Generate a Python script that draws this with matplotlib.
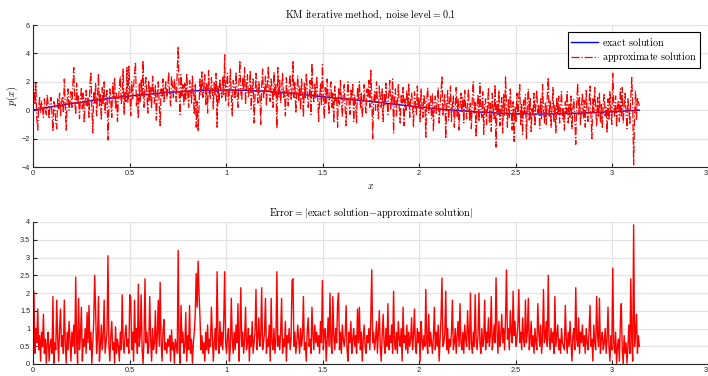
import numpy as np
import matplotlib
matplotlib.use("Agg")
import matplotlib.pyplot as plt

plt.rcParams['mathtext.fontset'] = 'cm'
plt.rcParams['font.family'] = ['Liberation Sans', 'DejaVu Sans']

# exact solution, read at coarse x positions
exact_x = [0.0, 0.1, 0.2, 0.3, 0.4, 0.5, 0.6, 0.7, 0.8, 0.9, 1.0, 1.1, 1.2, 1.3, 1.4, 1.5,
           1.6, 1.7, 1.8, 1.9, 2.0, 2.1, 2.2, 2.3, 2.4, 2.5, 2.6, 2.7, 2.8, 2.9, 3.0, 3.1, 3.14159]
exact_y = [0.00, 0.25, 0.47, 0.66, 0.84, 1.00, 1.13, 1.25, 1.34, 1.40, 1.42, 1.40, 1.34, 1.24, 1.10, 0.95,
           0.82, 0.68, 0.54, 0.38, 0.22, 0.10, -0.02, -0.12, -0.20, -0.25, -0.27, -0.26, -0.22, -0.17, -0.11, -0.03, 0.00]

# approximate (noisy) solution on a uniform grid over [0, pi]
approx = [
    2.2, 1.6, 0.4, 1.9, -0.6, -1.4, 0.3, 0.9, -0.2, 0.6, 0.1, -0.5, 0.8, 0.2, -0.3, 1.1, 0.4, -0.6, 0.5, 0.9,
    -0.3, -1.5, 0.6, 0.2, -0.9, -1.3, 0.8, 0.1, 1.2, -0.4, 0.5, 0.9, -0.2, 2.2, 0.3, -1.4, 0.7, 1.5, 0.0, 0.6,
    1.3, 0.2, 1.8, 3.0, 0.7, -0.3, 1.9, 0.4, 1.0, -0.6, 0.8, 1.6, 0.1, 1.2, -0.9, 0.6, 1.4, 0.3, 0.9, -0.5,
    1.8, 2.7, 0.2, -1.6, 1.3, 0.5, 1.9, -0.4, 0.9, 2.6, 0.3, 1.1, -0.7, 1.6, 0.4, 2.0, -0.2, 0.8, 1.4, -2.1,
    0.2, 1.5, 0.6, -0.5, 1.9, 0.8, 2.3, 0.1, 1.2, -0.8, 0.7, 1.6, 2.4, 0.4, 1.0, 2.9, -0.3, 1.3, 0.6, 3.0,
    0.5, 3.1, 1.4, -0.4, 2.0, 0.8, 1.7, 2.5, 3.4, 0.3, 1.1, -0.6, 1.9, 0.6, 2.2, 1.0, 3.5, 0.2, 1.5, 2.3,
    1.2, -0.2, 2.1, 0.7, 1.6, 0.1, 2.4, 1.3, 0.5, 1.8, -0.7, 1.1, 2.0, 0.4, -1.1, 1.5, 0.9, 2.2, 0.6, 1.4,
    2.0, 0.8, 1.5, 2.7, 1.1, 0.3, 2.4, 1.7, 0.9, 2.2, 1.4, 0.6, 2.8, 4.5, 1.2, -0.3, 2.5, 1.0, 1.8, 0.4,
    1.9, 0.7, 2.6, 1.3, 0.2, 2.1, 1.6, 0.5, 2.4, 1.0, -0.3, 1.8, -1.2, 0.6, -1.5, 0.3, 2.2, 1.1, 2.7, 0.9,
    1.6, 2.5, 0.4, 1.9, -0.2, 2.8, 1.2, 0.8, 2.3, 1.5, 0.1, 2.0, 1.0, 2.6, -1.2, 1.7, 0.5, 2.2, 1.3, 0.9,
    2.4, 1.1, 3.9, 0.6, 1.8, 2.6, 0.3, 1.4, 2.9, 1.0, -0.4, 2.1, 1.6, 0.8, 2.7, 1.2, 0.2, 1.9, 3.5, 1.3,
    0.7, 2.3, 1.5, 3.0, 0.4, 1.8, 2.5, 0.9, 1.3, 2.8, 0.1, 1.6, 2.2, -0.9, 1.0, 2.6, 1.4, 0.5, 2.0, 1.1,
    -1.0, 1.7, 2.9, 0.8, 1.4, 2.4, 0.3, 1.9, 3.1, 1.1, 0.6, 2.2, 1.5, 0.2, 2.7, 1.0, 1.8, -1.3, 3.0, 0.9,
    2.1, 0.5, 1.6, 2.6, 0.8, 1.3, -0.4, 2.3, 1.1, 0.3, 1.8, 2.5, 0.7, 1.4, 3.5, 0.9, 2.0, -0.2, 1.2, 2.4,
    0.6, 1.7, 0.0, 2.2, 1.3, -0.5, 1.9, 0.8, 2.6, 1.4, 0.2, 1.0, 2.1, -0.3, 3.3, 1.2, 0.5, 1.8, 0.9, 2.4,
    1.1, -0.8, 0.7, 1.9, 0.3, 3.2, 1.0, -0.6, 1.6, 0.5, 2.2, 0.9, -0.3, 1.4, 2.0, 0.2, 1.2, -0.9, 1.7, 0.6,
    0.9, -1.2, 1.5, 0.4, 2.1, 0.7, -0.5, 1.2, 1.8, 0.1, -1.1, 1.0, 2.0, 0.6, -0.3, 1.4, 0.8, 1.9, -0.8, 1.1,
    0.3, -0.9, 1.6, 0.8, 2.0, 0.1, 1.2, -0.5, 0.7, 1.8, 0.4, -0.2, 1.5, 0.9, 2.1, 0.2, 2.8, 1.0, -2.0, 0.6,
    1.3, 0.0, 2.0, 0.6, -0.6, 1.7, 0.9, 0.2, 1.5, -0.8, 1.1, 0.4, 1.9, 0.7, -0.3, 1.2, 2.1, 0.1, 0.8, 2.2,
    -1.6, 0.9, 1.5, -0.4, 0.6, 1.8, 0.2, -0.9, 1.1, 0.5, 1.6, -1.1, 0.8, 0.0, 1.4, 0.3, 1.9, -0.5, 0.7, 1.2,
    0.4, -1.2, 1.3, 0.6, -0.3, 1.7, 0.1, 0.9, -0.8, 1.5, 0.3, -0.5, 1.1, 0.6, -1.9, 0.8, 1.6, -0.2, 0.5, 1.0,
    -0.6, 1.2, -1.5, 0.4, 1.0, -0.3, 0.7, 1.6, -0.9, 0.2, 1.3, 2.4, -0.4, 0.6, 1.1, -2.0, 0.3, 1.4, -0.7, 0.5,
    1.7, -0.8, 0.4, 1.0, -1.2, 0.2, 1.6, -0.5, 0.8, -1.4, 0.3, 1.2, -0.2, 0.9, -0.9, 1.4, 0.1, -0.6, 0.7, 1.5,
    -0.7, 0.5, -1.3, 0.9, 2.0, -0.2, 0.6, -1.9, 0.3, 1.1, -0.8, 1.9, 0.1, -0.5, 1.3, -1.7, 0.4, 0.8, -1.0, 0.2,
    1.6, -0.9, 0.5, -1.5, 1.2, 0.0, -0.6, 1.8, -2.6, 0.6, -0.3, 1.4, -1.1, 0.2, 0.9, -1.6, 1.1, -0.4, 2.4, 0.3,
    -1.2, 0.8, -0.5, 1.5, 0.1, -1.4, 0.6, -2.2, 0.2, -0.8, 1.2, -0.3, 0.9, 1.8, -1.0, 0.4, -1.7, 0.7, -0.2, 1.1,
    -2.0, 0.3, 1.5, -0.7, 0.9, -1.5, 0.1, -0.4, 1.2, -1.1, 0.6, 1.4, -0.2, 0.4, -1.3, 0.8, -0.6, 1.8, 0.0, -0.9,
    0.5, -1.0, 1.1, 2.3, -0.5, 0.7, -1.2, 0.2, 1.6, -0.8, 0.4, -1.6, 0.9, -0.3, 1.0, -0.9, 0.3, 1.3, -0.6, 0.1,
    -1.4, 0.6, -0.2, 1.3, -0.9, 0.4, -0.5, 1.0, -1.3, 0.2, 0.8, -0.7, -2.4, 0.5, 1.9, -0.3, 0.9, -1.0, 0.1, 1.2,
    -0.6, 0.7, -1.2, 1.4, 0.0, -0.8, 0.5, 1.7, -0.4, -2.0, 0.8, -0.2, 1.6, 0.3, -1.1, 0.9, -0.5, 1.2, -0.9, 0.4,
    -1.3, 0.6, 1.1, -0.4, 0.2, -1.6, 0.8, -0.7, 1.3, 0.0, -1.0, 2.6, 0.4, -0.5, 1.0, -1.2, 0.3, 0.7, -0.8, 1.5,
    -0.5, 1.6, -0.9, 0.3, 1.2, -0.2, -1.3, 0.8, 0.1, -1.0, 0.9, 2.3, 0.4, -3.85, -0.5, 1.4, -0.7, 0.9, 0.6, 0.3,
]

# error |exact - approximate| on the same kind of grid
error = [
    2.15, 2.0, 0.3, 1.0, 0.6, 1.55, 0.4, 0.8, 0.08, 0.9, 0.5, 1.4, 0.3, 0.7, 0.02, 0.6, 0.9, 0.08, 0.5, 0.7,
    0.3, 1.9, 0.02, 0.6, 0.4, 1.8, 0.7, 0.08, 1.0, 1.55, 0.5, 0.8, 0.3, 1.8, 0.6, 0.02, 0.9, 0.4, 1.2, 0.7,
    0.08, 0.9, 0.5, 1.1, 0.3, 2.45, 0.6, 0.02, 1.85, 0.4, 0.8, 1.6, 0.08, 0.7, 0.5, 1.0, 0.3, 1.45, 0.6, 1.65,
    0.4, 0.9, 0.02, 0.6, 1.2, 2.5, 1.5, 0.3, 0.7, 1.9, 0.08, 0.5, 1.1, 0.4, 0.8, 1.8, 0.3, 0.6, 0.9, 3.05,
    0.5, 0.08, 0.8, 1.2, 0.4, 0.6, 0.02, 1.05, 0.3, 0.7, 0.5, 0.08, 0.9, 0.4, 1.95, 0.6, 0.3, 0.8, 1.1, 0.5,
    0.7, 0.3, 1.95, 1.85, 0.4, 0.9, 0.08, 1.8, 0.6, 1.0, 0.3, 2.25, 0.5, 0.8, 1.95, 0.4, 0.02, 0.7, 2.4, 0.6,
    0.9, 0.3, 0.5, 1.9, 0.7, 0.08, 1.0, 0.4, 0.6, 1.5, 0.3, 0.8, 1.8, 0.5, 2.3, 0.6, 0.08, 0.9, 1.25, 0.4,
    0.6, 0.3, 0.7, 0.5, 0.8, 0.08, 0.95, 0.4, 0.6, 0.02, 0.7, 0.5, 0.3, 3.2, 0.4, 0.02, 1.65, 0.6, 0.9, 0.3,
    0.5, 1.45, 0.08, 0.8, 0.4, 1.65, 0.3, 0.7, 0.02, 0.6, 0.9, 1.4, 2.55, 1.6, 2.9, 2.0, 1.3, 0.4, 0.8, 0.3,
    0.6, 0.08, 0.9, 0.4, 1.1, 0.3, 0.7, 0.5, 1.6, 0.8, 0.08, 0.6, 1.0, 0.4, 2.6, 0.7, 0.3, 1.2, 0.5, 0.9,
    0.4, 1.2, 2.6, 0.6, 0.3, 0.8, 1.0, 0.08, 0.5, 1.85, 0.7, 0.3, 0.9, 0.4, 1.1, 0.6, 1.7, 0.08, 0.8, 2.15,
    0.5, 0.9, 0.3, 0.7, 1.6, 0.4, 0.6, 1.0, 0.08, 0.8, 0.5, 1.2, 0.3, 0.6, 0.9, 2.1, 0.4, 0.7, 1.3, 0.5,
    0.8, 2.15, 0.4, 0.6, 0.9, 1.85, 0.3, 0.7, 0.5, 1.1, 0.08, 1.85, 0.6, 0.4, 1.0, 0.3, 0.7, 2.6, 0.5, 0.8,
    0.4, 0.9, 1.85, 0.3, 0.7, 0.5, 1.2, 0.08, 0.8, 0.6, 1.0, 0.4, 0.7, 2.35, 2.4, 0.5, 0.9, 0.3, 0.6, 1.1,
    0.7, 0.3, 1.0, 0.5, 0.8, 1.9, 0.4, 0.6, 0.08, 0.9, 1.3, 0.5, 0.7, 0.3, 1.6, 0.8, 0.4, 1.1, 0.6, 0.9,
    0.5, 0.8, 0.3, 1.2, 0.6, 2.35, 0.4, 0.9, 1.0, 0.08, 0.7, 1.3, 0.5, 2.0, 0.6, 0.3, 1.9, 0.8, 0.4, 1.0,
    0.6, 1.7, 2.0, 0.4, 0.9, 0.3, 1.1, 0.7, 0.5, 0.8, 1.65, 0.4, 0.08, 0.9, 0.6, 1.2, 0.3, 0.7, 1.0, 0.5,
    0.8, 0.3, 1.55, 0.6, 1.6, 0.4, 0.9, 0.08, 0.7, 1.1, 0.5, 0.3, 0.8, 0.6, 1.0, 0.4, 1.3, 2.65, 0.6, 0.9,
    0.4, 0.7, 1.2, 0.3, 0.9, 1.5, 0.5, 0.08, 0.8, 1.4, 0.6, 0.3, 1.0, 0.5, 1.7, 0.4, 0.8, 0.6, 1.1, 0.3,
    2.05, 0.6, 0.4, 0.9, 0.3, 1.2, 0.7, 0.5, 1.0, 0.08, 1.6, 0.6, 0.8, 0.4, 1.1, 0.3, 0.9, 0.5, 0.7, 1.3,
    0.4, 0.8, 1.55, 0.5, 0.3, 1.0, 0.6, 0.9, 0.08, 1.2, 0.7, 0.4, 0.8, 0.5, 2.1, 0.6, 0.3, 1.4, 0.5, 0.9,
    0.6, 0.3, 0.8, 1.6, 0.4, 0.9, 0.5, 1.1, 0.08, 0.7, 1.3, 2.42, 0.5, 0.6, 0.9, 2.05, 0.4, 1.0, 0.3, 0.7,
    0.5, 0.9, 1.8, 0.4, 0.6, 1.0, 0.3, 0.8, 1.2, 0.5, 1.7, 0.6, 0.4, 0.9, 0.3, 1.1, 0.7, 0.5, 1.5, 0.8,
    0.4, 2.0, 0.6, 0.3, 0.9, 0.5, 1.95, 0.7, 0.4, 0.8, 2.0, 0.6, 0.3, 1.0, 0.5, 0.7, 1.8, 0.4, 0.9, 0.6,
    1.3, 0.5, 0.8, 1.9, 0.4, 0.7, 1.1, 0.6, 2.43, 0.9, 0.3, 1.2, 0.5, 0.8, 1.4, 0.6, 1.0, 0.4, 1.3, 2.65,
    0.7, 1.0, 0.4, 1.5, 0.9, 0.6, 2.05, 0.8, 1.2, 0.5, 0.7, 1.1, 2.1, 0.6, 0.9, 0.4, 1.3, 0.7, 0.5, 1.8,
    0.6, 0.9, 1.85, 0.4, 0.7, 1.2, 0.5, 0.8, 0.3, 1.0, 0.6, 0.4, 1.7, 0.9, 0.5, 1.1, 0.3, 0.7, 2.1, 0.6,
    0.8, 1.2, 0.5, 2.5, 0.7, 0.4, 1.0, 0.6, 0.9, 0.3, 1.9, 0.5, 0.8, 1.1, 0.4, 0.7, 0.3, 1.0, 0.6, 0.5,
    0.4, 1.65, 0.7, 0.3, 0.9, 0.5, 1.2, 0.6, 0.08, 0.8, 1.0, 0.4, 2.15, 0.7, 0.5, 1.3, 0.3, 0.9, 0.6, 1.1,
    0.5, 0.8, 0.3, 1.0, 0.6, 0.4, 0.9, 1.65, 0.5, 0.7, 0.08, 1.1, 0.6, 0.4, 1.9, 0.8, 0.5, 1.85, 0.3, 0.7,
    0.9, 0.4, 0.6, 1.0, 0.3, 0.7, 1.6, 0.5, 0.08, 0.8, 0.4, 2.7, 0.6, 0.3, 0.9, 0.02, 0.5, 0.7, 0.08, 1.2,
    1.7, 0.4, 0.0, 0.8, 0.3, 0.6, 0.02, 0.5, 1.1, 0.3, 2.4, 0.7, 0.08, 3.92, 0.5, 0.9, 1.4, 0.3, 0.8, 0.5,
]

x_approx = np.linspace(0, np.pi, len(approx))
x_error = np.linspace(0, np.pi, len(error))

xticks = [0, 0.5, 1, 1.5, 2, 2.5, 3, 3.5]
xticklabels = ['0', '0.5', '1', '1.5', '2', '2.5', '3', '3.5']
yticks_top = [-4, -2, 0, 2, 4, 6]
yticks_bot = [0, 0.5, 1, 1.5, 2, 2.5, 3, 3.5, 4]

W, H = 708, 376
fig = plt.figure(figsize=(W / 100, H / 100), dpi=100)

def px_axes(left, right, top, bottom):
    return fig.add_axes([left / W, 1 - bottom / H, (right - left) / W, (bottom - top) / H])

ax1 = px_axes(33, 708.5, 25, 167)
ax2 = px_axes(33, 708.5, 222, 364)

dark = '#262626'
for ax in (ax1, ax2):
    ax.set_xlim(0, 3.5)
    ax.set_xticks(xticks)
    ax.set_xticklabels(xticklabels)
    ax.grid(True, color='#e3e3e3', linewidth=0.9)
    ax.set_axisbelow(True)
    for s in ('top', 'right'):
        ax.spines[s].set_visible(False)
    for s in ('left', 'bottom'):
        ax.spines[s].set_color(dark)
        ax.spines[s].set_linewidth(0.8)
    ax.tick_params(direction='in', length=3, width=0.8, colors=dark, labelsize=5.3, pad=2)

l1, = ax1.plot(exact_x, exact_y, color='#0000ff', linewidth=1.0, label=r'$\mathrm{exact\ solution}$')
l2, = ax1.plot(x_approx, approx, color='#ff0000', linestyle='-.', linewidth=0.9,
               label=r'$\mathrm{approximate\ solution}$')
ax1.set_ylim(-4, 6)
ax1.set_yticks(yticks_top)
ax1.set_title(r'$\mathrm{KM\ iterative\ method,\ noise\ level} = 0.1$', fontsize=7.3, pad=5)
ax1.set_xlabel(r'$x$', fontsize=7.3, labelpad=3)
ax1.set_ylabel(r'$p(x)$', fontsize=7.3, labelpad=1)
leg = ax1.legend(loc='upper right', bbox_to_anchor=(0.988, 0.95), fontsize=7.3, frameon=True,
                 fancybox=False, framealpha=1, edgecolor='black', handlelength=2.6,
                 handletextpad=0.4, borderpad=0.35, labelspacing=0.25, borderaxespad=0)
leg.get_frame().set_linewidth(0.8)

ax2.plot(x_error, error, color='#ff0000', linewidth=1.0)
ax2.set_ylim(0, 4)
ax2.set_yticks(yticks_bot)
ax2.set_yticklabels(['0', '0.5', '1', '1.5', '2', '2.5', '3', '3.5', '4'])
ax2.set_title(r'$\mathrm{Error} = |\mathrm{exact\ solution}{-}\mathrm{approximate\ solution}|$',
              fontsize=7.3, pad=4)

fig.savefig('out.png', dpi=100)
